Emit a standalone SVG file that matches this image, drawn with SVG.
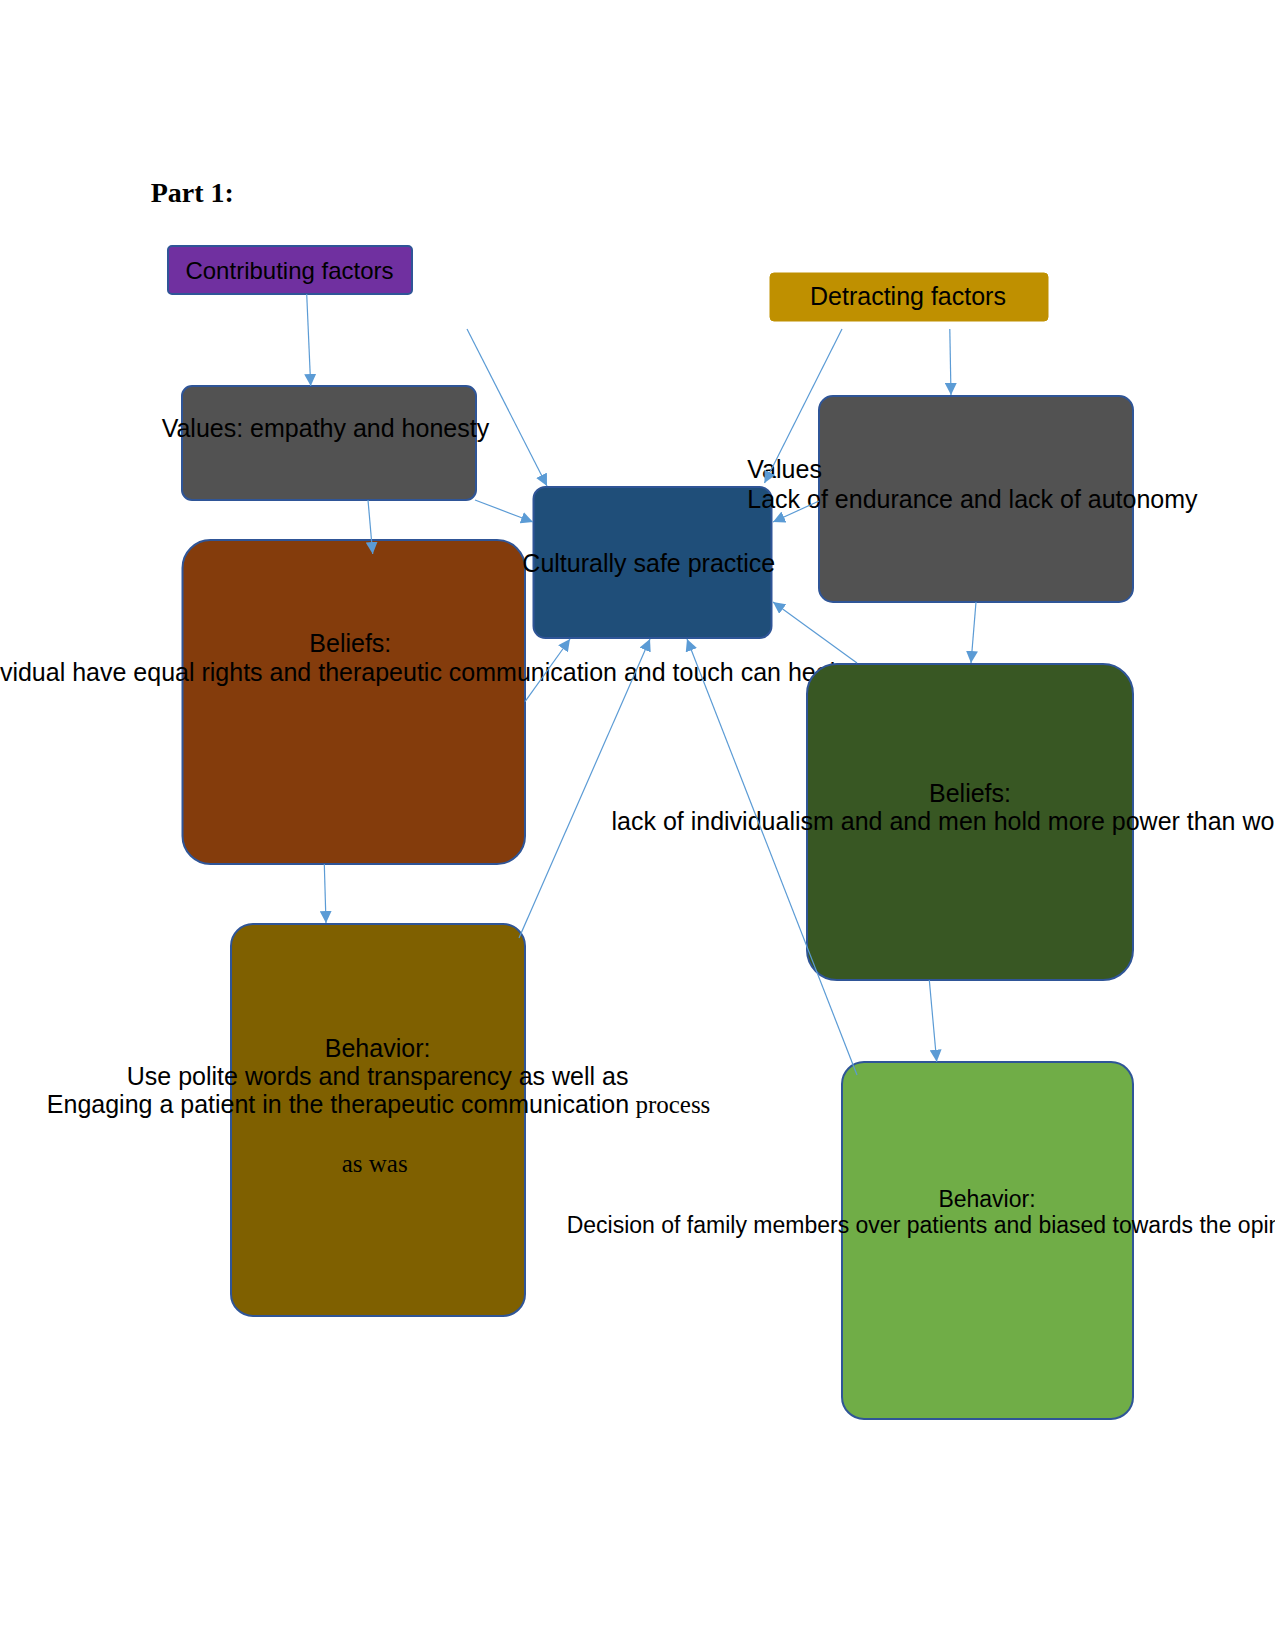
<svg xmlns="http://www.w3.org/2000/svg" width="1275" height="1650" viewBox="0 0 1275 1650">
<style>
.s{font-family:"Liberation Sans",Arial,sans-serif;font-size:25px;fill:#000}
.m{text-anchor:middle}
.serif{font-family:"Liberation Serif","Times New Roman",serif}
.box{stroke:#2F5597;stroke-width:2}
.c{stroke:#5B9BD5;stroke-width:1.2;fill:none;marker-end:url(#ah)}
</style>
<defs>
<marker id="ah" markerUnits="userSpaceOnUse" markerWidth="12" markerHeight="12" refX="12" refY="6" orient="auto">
<path d="M0,0 L12,6 L0,12 z" fill="#5B9BD5"/>
</marker>
</defs>
<rect width="1275" height="1650" fill="#fff"/>
<text x="150.7" y="201.7" style="font-family:'Liberation Serif','Times New Roman',serif;font-weight:bold;font-size:28px">Part 1:</text>

<g id="contributing">
<rect class="box" x="168" y="246" width="244" height="48" rx="4" fill="#7030A0"/>
<text class="s m" x="289.5" y="279" style="font-size:24px">Contributing factors</text>
</g>
<g id="detracting">
<rect x="770" y="273" width="278" height="48" rx="4" fill="#BF9000" stroke="#BF9000" stroke-width="1"/>
<text class="s m" x="908" y="305">Detracting factors</text>
</g>
<g id="values-left">
<rect class="box" x="182" y="386" width="294" height="114" rx="10" fill="#525252"/>
<text class="s m" x="325.4" y="437">Values: empathy and honesty</text>
</g>
<g id="beliefs-left">
<rect class="box" x="182.5" y="540" width="342.5" height="324" rx="28" fill="#843C0C"/>
<text class="s m" x="350.3" y="652.3">Beliefs:</text>
<text class="s" x="-39" y="681">individual have equal rights and therapeutic communication and touch can heal</text>
</g>
<g id="culturally-safe-practice">
<rect class="box" x="533.5" y="487" width="238" height="151" rx="12" fill="#1F4E79"/>
<text class="s m" x="648.8" y="571.7">Culturally safe practice</text>
</g>
<g id="values-right">
<rect class="box" x="819" y="396" width="314" height="206" rx="14" fill="#525252"/>
<text class="s" x="747.3" y="478.3">Values</text>
<text class="s" x="747.3" y="507.7">Lack of endurance and lack of autonomy</text>
</g>
<g id="beliefs-right">
<rect class="box" x="807" y="664" width="326" height="316" rx="30" fill="#385723"/>
<text class="s m" x="970" y="801.7">Beliefs:</text>
<text class="s" x="611.5" y="830">lack of individualism and and men hold more power than women</text>
</g>
<g id="behavior-left">
<rect class="box" x="231" y="924" width="294" height="392" rx="22" fill="#7F6000"/>
<text class="s m" x="377.6" y="1056.7">Behavior:</text>
<text class="s m" x="377.6" y="1085">Use polite words and transparency as well as</text>
<text class="s" x="46.8" y="1113.3">Engaging a patient in the therapeutic communication<tspan class="serif"> process</tspan></text>
<text class="s m serif" x="374.7" y="1171.7">as was</text>
</g>
<g id="behavior-right">
<rect class="box" x="842" y="1062" width="291" height="357" rx="22" fill="#70AD47"/>
<text class="s m" x="987" y="1206.7" style="font-size:23px">Behavior:</text>
<text class="s" x="566.7" y="1233.3" style="font-size:23px">Decision of family members over patients and biased towards the opinion</text>
</g>

<g id="connectors">
<line class="c" x1="306.7" y1="294" x2="310.7" y2="386"/>
<line class="c" x1="467" y1="329" x2="547" y2="486"/>
<line class="c" x1="475" y1="500" x2="533" y2="522"/>
<line class="c" x1="368" y1="500" x2="372.7" y2="554"/>
<line class="c" x1="842" y1="329" x2="764.5" y2="483"/>
<line class="c" x1="949.8" y1="329" x2="951" y2="395"/>
<line class="c" x1="819" y1="501" x2="773" y2="522"/>
<line class="c" x1="976" y1="602" x2="971" y2="663"/>
<line class="c" x1="857" y1="663" x2="773" y2="602"/>
<line class="c" x1="525" y1="701.7" x2="570" y2="639"/>
<line class="c" x1="519" y1="938" x2="650" y2="639"/>
<line class="c" x1="857" y1="1075" x2="687" y2="639"/>
<line class="c" x1="324.3" y1="864" x2="326" y2="923"/>
<line class="c" x1="929.3" y1="980" x2="936.7" y2="1061.7"/>
</g>
</svg>
